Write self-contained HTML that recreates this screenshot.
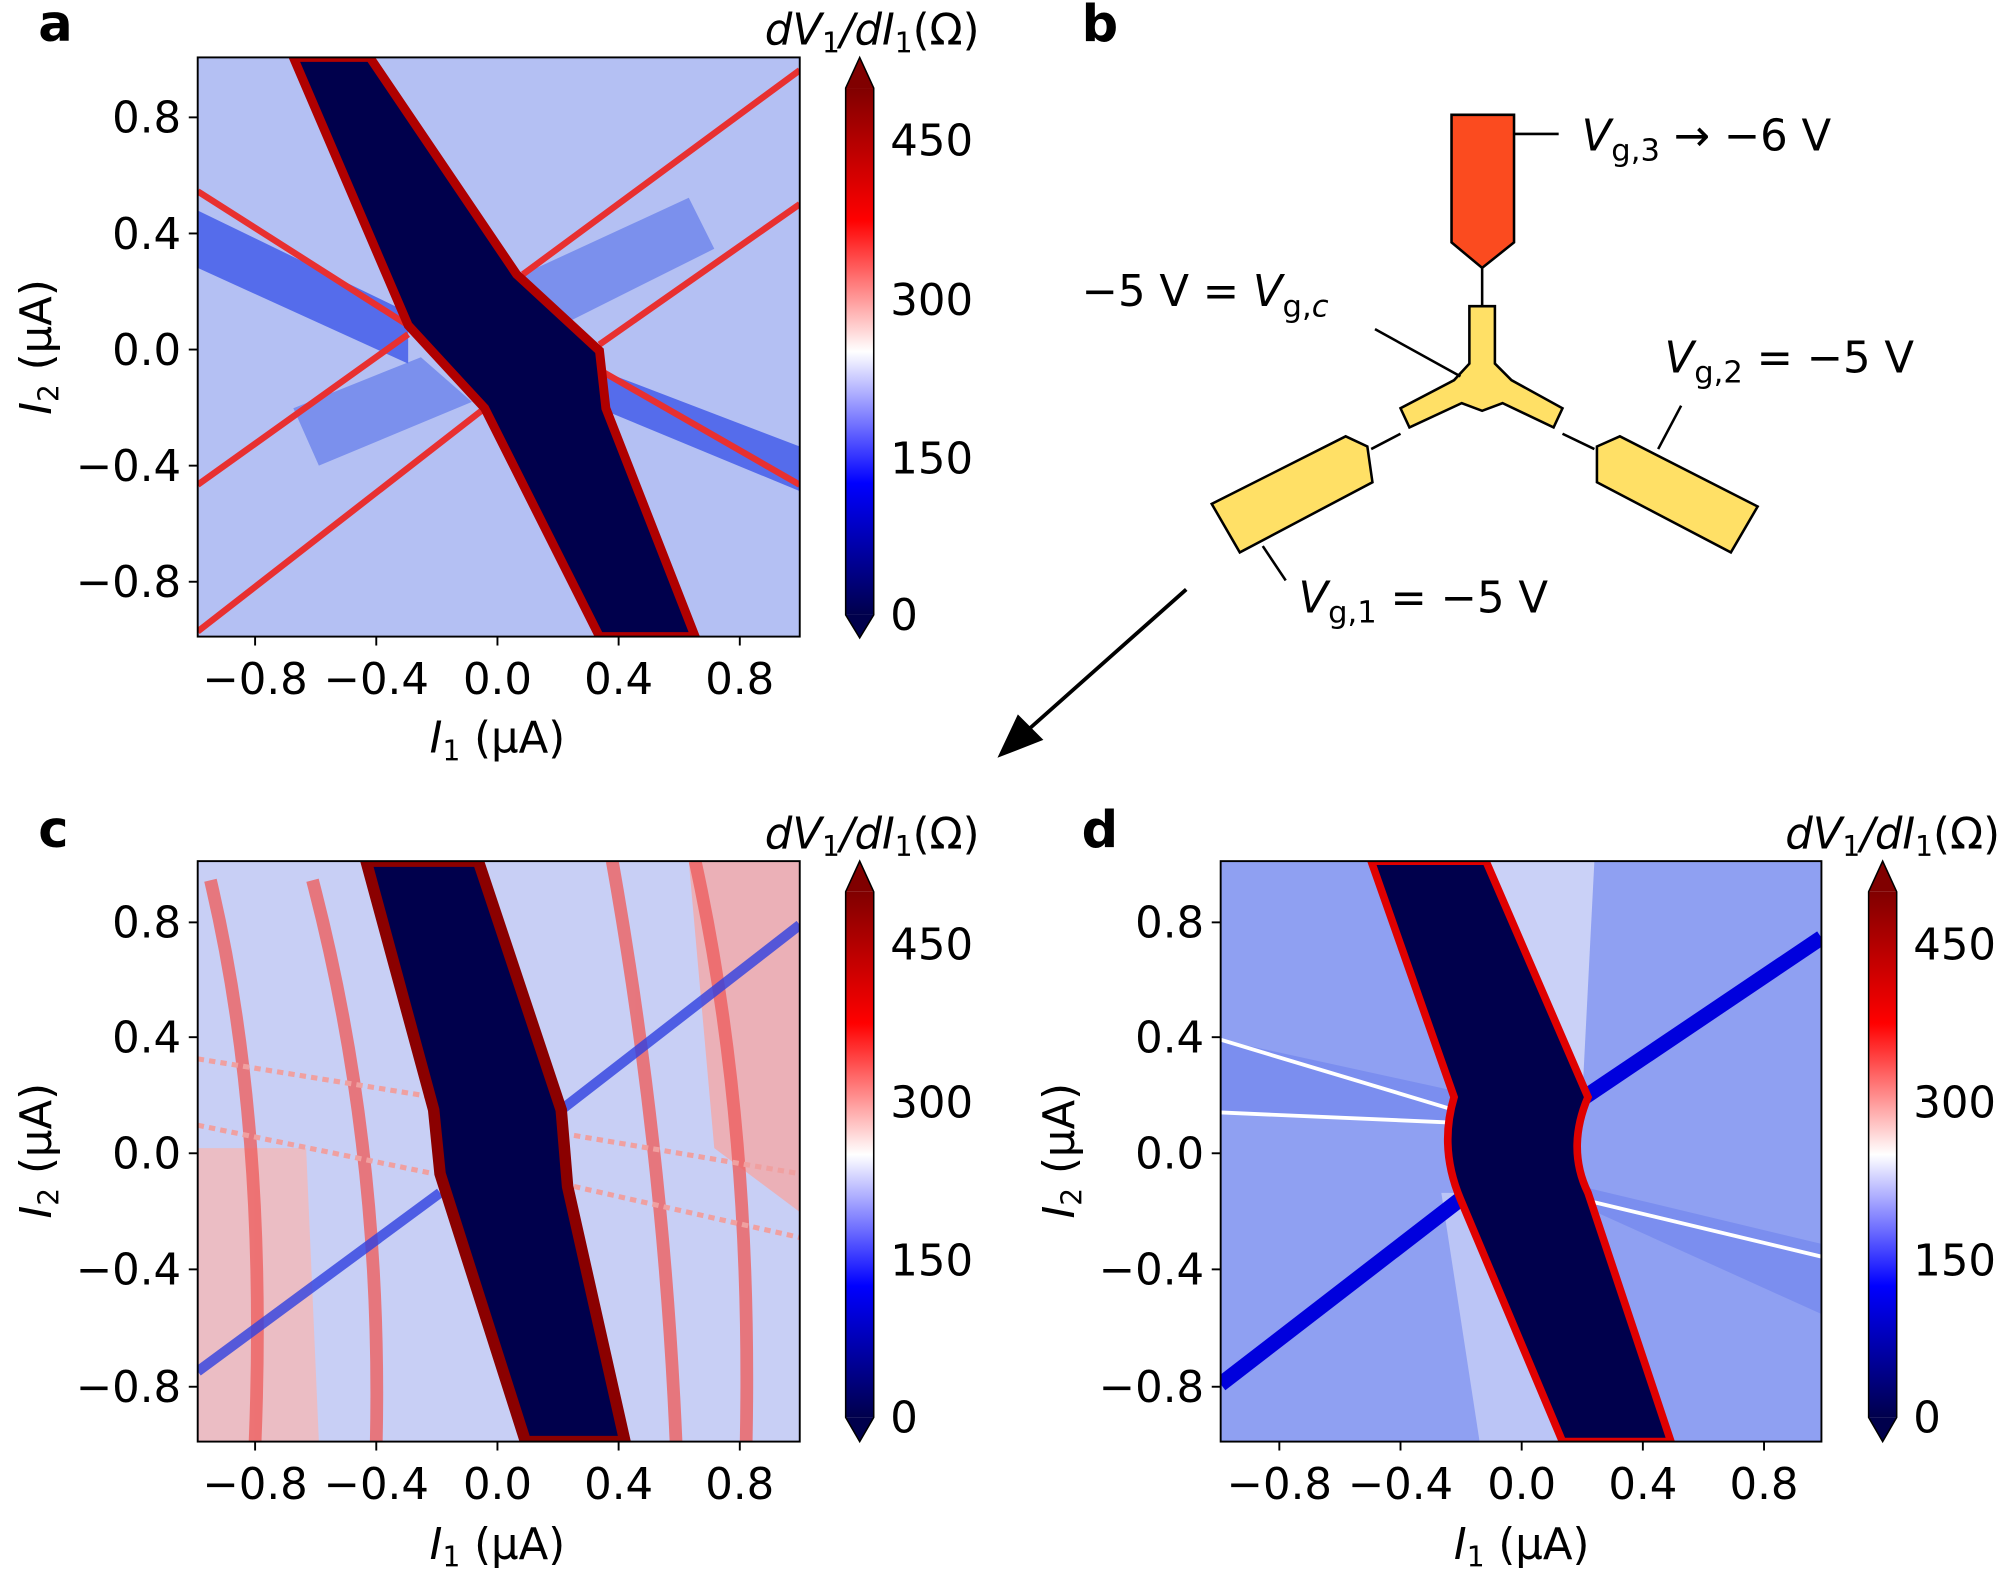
<!DOCTYPE html>
<html><head><meta charset="utf-8"><style>
html,body{margin:0;padding:0;background:#fff}
svg{display:block}
text{font-family:"DejaVu Sans","Liberation Sans",sans-serif;fill:#000}
.t{font-size:34px}
.b{font-size:40px;font-weight:bold}
</style></head><body>
<svg width="2000" height="1573" viewBox="0 0 1568 1233" preserveAspectRatio="none" xmlns="http://www.w3.org/2000/svg">
<defs>
<linearGradient id="cm" x1="0" y1="1" x2="0" y2="0">
<stop offset="0" stop-color="#00004c"/><stop offset="0.25" stop-color="#0000ff"/>
<stop offset="0.5" stop-color="#ffffff"/><stop offset="0.75" stop-color="#ff0000"/>
<stop offset="1" stop-color="#800000"/></linearGradient>
<clipPath id="ca"><rect x="155" y="45" width="472" height="454"/></clipPath>
<clipPath id="cc"><rect x="155" y="675" width="472" height="455"/></clipPath>
<clipPath id="cd"><rect x="957" y="675" width="471" height="455"/></clipPath>
</defs>

<!-- Panel a -->
<text class="b" x="30" y="32">a</text>
<g clip-path="url(#ca)">
<rect x="155" y="45" width="472" height="454" fill="#b4c0f3"/>
<polygon points="155,165 320,245 320,285 155,210" fill="#3550e8" opacity="0.75"/>
<polygon points="470,290 627,350 627,385 470,320" fill="#3550e8" opacity="0.75"/>
<polygon points="410,215 540,155 560,195 430,260" fill="#5570ea" opacity="0.6"/>
<polygon points="230,320 330,280 370,315 250,365" fill="#5570ea" opacity="0.6"/>
<g stroke="#e83030" stroke-width="5" fill="none">
<line x1="155" y1="380" x2="320" y2="262"/>
<line x1="155" y1="495" x2="380" y2="320"/>
<line x1="410" y1="215" x2="627" y2="55"/>
<line x1="470" y1="270" x2="627" y2="160"/>
<line x1="155" y1="150" x2="320" y2="255"/>
<line x1="470" y1="290" x2="627" y2="380"/>
</g>
<polygon points="230,45 290,45 405,215 470,275 475,320 545,499 470,499 380,320 320,255" fill="#00004c" stroke="#b00000" stroke-width="7"/>
</g>
<rect x="155" y="45" width="472" height="454" fill="none" stroke="#000" stroke-width="1.5"/>
<g class="t" text-anchor="end">
<text x="142" y="104">0.8</text><text x="142" y="195">0.4</text><text x="142" y="286">0.0</text>
<text x="142" y="377">−0.4</text><text x="142" y="468">−0.8</text></g>
<g class="t" text-anchor="middle">
<text x="200" y="544">−0.8</text><text x="295" y="544">−0.4</text><text x="390" y="544">0.0</text>
<text x="485" y="544">0.4</text><text x="580" y="544">0.8</text>
<text x="390" y="590"><tspan font-style="italic">I</tspan><tspan font-size="22" dy="6">1</tspan><tspan dy="-6"> (μA)</tspan></text></g>
<text class="t" transform="translate(40,272) rotate(-90)" text-anchor="middle"><tspan font-style="italic">I</tspan><tspan font-size="22" dy="6">2</tspan><tspan dy="-6"> (μA)</tspan></text>
<g stroke="#000" stroke-width="1.5">
<line x1="155" y1="92" x2="148" y2="92"/><line x1="155" y1="183" x2="148" y2="183"/><line x1="155" y1="274" x2="148" y2="274"/><line x1="155" y1="365" x2="148" y2="365"/><line x1="155" y1="456" x2="148" y2="456"/>
<line x1="200" y1="499" x2="200" y2="506"/><line x1="295" y1="499" x2="295" y2="506"/><line x1="390" y1="499" x2="390" y2="506"/><line x1="485" y1="499" x2="485" y2="506"/><line x1="580" y1="499" x2="580" y2="506"/></g>
<g>
<rect x="663" y="69" width="22" height="413" fill="url(#cm)"/>
<polygon points="663,69 674,45 685,69" fill="#800000"/><polygon points="663,482 674,500 685,482" fill="#00004c"/>
<polygon points="663,69 674,45 685,69 685,482 674,500 663,482" fill="none" stroke="#000" stroke-width="1.2"/>
<g class="t"><text x="698" y="122">450</text><text x="698" y="247">300</text><text x="698" y="371">150</text><text x="698" y="494">0</text></g>
<text class="t" x="768" y="35" text-anchor="end" font-style="italic">dV<tspan font-size="22" dy="6" font-style="normal">1</tspan><tspan dy="-6">/dI</tspan><tspan font-size="22" dy="6" font-style="normal">1</tspan><tspan dy="-6" font-style="normal">(Ω)</tspan></text>
</g>

<!-- Panel b -->
<text class="b" x="848" y="32">b</text>
<polygon points="1138,90 1187,90 1187,190 1162,210 1138,190" fill="#fb4b1f" stroke="#000" stroke-width="2"/>
<line x1="1187" y1="105" x2="1222" y2="105" stroke="#000" stroke-width="2"/>
<line x1="1162" y1="210" x2="1162" y2="240" stroke="#000" stroke-width="2"/>
<text class="t" x="1240" y="118" font-size="38"><tspan font-style="italic">V</tspan><tspan font-size="24" dy="8">g,3</tspan><tspan dy="-8"> → −6 V</tspan></text>
<polygon points="1152,240 1172,240 1172,285 1185,298 1225,320 1218,335 1178,316 1162,322 1146,316 1105,335 1098,320 1140,298 1152,285" fill="#ffe066" stroke="#000" stroke-width="2"/>
<line x1="1098" y1="340" x2="1075" y2="352" stroke="#000" stroke-width="2"/>
<line x1="1225" y1="340" x2="1250" y2="352" stroke="#000" stroke-width="2"/>
<polygon points="950,395 1055,342 1072,350 1076,378 972,433" fill="#ffe066" stroke="#000" stroke-width="2"/>
<polygon points="1252,350 1270,342 1378,397 1357,433 1252,378" fill="#ffe066" stroke="#000" stroke-width="2"/>
<line x1="1145" y1="295" x2="1078" y2="258" stroke="#000" stroke-width="2"/>
<line x1="1300" y1="352" x2="1318" y2="318" stroke="#000" stroke-width="2"/>
<line x1="990" y1="428" x2="1008" y2="455" stroke="#000" stroke-width="2"/>
<text class="t" x="848" y="240" font-size="38">−5 V = <tspan font-style="italic">V</tspan><tspan font-size="24" dy="8">g,<tspan font-style="italic">c</tspan></tspan></text>
<text class="t" x="1305" y="292" font-size="38"><tspan font-style="italic">V</tspan><tspan font-size="24" dy="8">g,2</tspan><tspan dy="-8"> = −5 V</tspan></text>
<text class="t" x="1018" y="480" font-size="38"><tspan font-style="italic">V</tspan><tspan font-size="24" dy="8">g,1</tspan><tspan dy="-8"> = −5 V</tspan></text>
<line x1="930" y1="462" x2="805" y2="573" stroke="#000" stroke-width="3"/>
<polygon points="782,594 798,560 818,580" fill="#000"/>

<!-- Panel c -->
<text class="b" x="30" y="664">c</text>
<g clip-path="url(#cc)">
<rect x="155" y="675" width="472" height="455" fill="#c8cff5"/>
<polygon points="155,900 240,900 250,1130 155,1130" fill="#f4b8b8" opacity="0.8"/>
<polygon points="540,675 627,675 627,950 560,900" fill="#f4a8a8" opacity="0.8"/>
<g stroke="#ee6060" stroke-width="10" fill="none" opacity="0.8">
<path d="M165,690 Q210,880 200,1130"/><path d="M245,690 Q300,900 295,1130"/>
<path d="M480,675 Q520,900 530,1130"/><path d="M545,675 Q590,880 585,1130"/></g>
<g stroke="#3040e0" stroke-width="8" fill="none" opacity="0.8">
<line x1="155" y1="1075" x2="345" y2="935"/><line x1="440" y1="870" x2="627" y2="725"/></g>
<g stroke="#f0a0a0" stroke-width="4" fill="none" stroke-dasharray="5,4">
<line x1="155" y1="830" x2="340" y2="860"/><line x1="155" y1="882" x2="340" y2="920"/>
<line x1="450" y1="890" x2="627" y2="920"/><line x1="450" y1="930" x2="627" y2="970"/></g>
<polygon points="287,675 375,675 440,870 445,930 490,1130 412,1130 345,920 340,870" fill="#00004c" stroke="#8b0000" stroke-width="9"/>
</g>
<rect x="155" y="675" width="472" height="455" fill="none" stroke="#000" stroke-width="1.5"/>
<g class="t" text-anchor="end">
<text x="142" y="735">0.8</text><text x="142" y="825">0.4</text><text x="142" y="916">0.0</text>
<text x="142" y="1007">−0.4</text><text x="142" y="1099">−0.8</text></g>
<g class="t" text-anchor="middle">
<text x="200" y="1175">−0.8</text><text x="295" y="1175">−0.4</text><text x="390" y="1175">0.0</text>
<text x="485" y="1175">0.4</text><text x="580" y="1175">0.8</text>
<text x="390" y="1222"><tspan font-style="italic">I</tspan><tspan font-size="22" dy="6">1</tspan><tspan dy="-6"> (μA)</tspan></text></g>
<text class="t" transform="translate(40,902) rotate(-90)" text-anchor="middle"><tspan font-style="italic">I</tspan><tspan font-size="22" dy="6">2</tspan><tspan dy="-6"> (μA)</tspan></text>
<g stroke="#000" stroke-width="1.5">
<line x1="155" y1="723" x2="148" y2="723"/><line x1="155" y1="813" x2="148" y2="813"/><line x1="155" y1="904" x2="148" y2="904"/><line x1="155" y1="995" x2="148" y2="995"/><line x1="155" y1="1087" x2="148" y2="1087"/>
<line x1="200" y1="1130" x2="200" y2="1137"/><line x1="295" y1="1130" x2="295" y2="1137"/><line x1="390" y1="1130" x2="390" y2="1137"/><line x1="485" y1="1130" x2="485" y2="1137"/><line x1="580" y1="1130" x2="580" y2="1137"/></g>
<g>
<rect x="663" y="699" width="22" height="412" fill="url(#cm)"/>
<polygon points="663,699 674,675 685,699" fill="#800000"/><polygon points="663,1111 674,1130 685,1111" fill="#00004c"/>
<polygon points="663,699 674,675 685,699 685,1111 674,1130 663,1111" fill="none" stroke="#000" stroke-width="1.2"/>
<g class="t"><text x="698" y="752">450</text><text x="698" y="876">300</text><text x="698" y="1000">150</text><text x="698" y="1123">0</text></g>
<text class="t" x="768" y="665" text-anchor="end" font-style="italic">dV<tspan font-size="22" dy="6" font-style="normal">1</tspan><tspan dy="-6">/dI</tspan><tspan font-size="22" dy="6" font-style="normal">1</tspan><tspan dy="-6" font-style="normal">(Ω)</tspan></text>
</g>

<!-- Panel d -->
<text class="b" x="848" y="664">d</text>
<g clip-path="url(#cd)">
<rect x="957" y="675" width="471" height="455" fill="#8fa0f2"/>
<polygon points="957,815 1140,855 1140,880 957,872" fill="#7b8eef"/>
<polygon points="1240,930 1428,975 1428,1030 1240,945" fill="#7b8eef"/>
<polygon points="1160,675 1250,675 1240,870 1200,880" fill="#d8ddf8" opacity="0.8"/>
<polygon points="1130,935 1160,935 1230,1130 1160,1130" fill="#d8ddf8" opacity="0.6"/>
<g stroke="#0000dd" stroke-width="12" fill="none">
<line x1="957" y1="1085" x2="1145" y2="940"/><line x1="1235" y1="865" x2="1428" y2="735"/></g>
<g stroke="#ffffff" stroke-width="3" fill="none">
<line x1="957" y1="815" x2="1140" y2="870"/><line x1="1240" y1="940" x2="1428" y2="985"/>
<line x1="957" y1="872" x2="1140" y2="880"/></g>
<path d="M1075,675 L1165,675 L1245,860 Q1228,900 1245,935 L1310,1130 L1225,1130 L1145,940 Q1128,900 1140,860 Z" fill="#00004c" stroke="#e00000" stroke-width="6"/>
</g>
<rect x="957" y="675" width="471" height="455" fill="none" stroke="#000" stroke-width="1.5"/>
<g class="t" text-anchor="end">
<text x="944" y="735">0.8</text><text x="944" y="825">0.4</text><text x="944" y="916">0.0</text>
<text x="944" y="1007">−0.4</text><text x="944" y="1099">−0.8</text></g>
<g class="t" text-anchor="middle">
<text x="1003" y="1175">−0.8</text><text x="1098" y="1175">−0.4</text><text x="1193" y="1175">0.0</text>
<text x="1288" y="1175">0.4</text><text x="1383" y="1175">0.8</text>
<text x="1193" y="1222"><tspan font-style="italic">I</tspan><tspan font-size="22" dy="6">1</tspan><tspan dy="-6"> (μA)</tspan></text></g>
<text class="t" transform="translate(842,902) rotate(-90)" text-anchor="middle"><tspan font-style="italic">I</tspan><tspan font-size="22" dy="6">2</tspan><tspan dy="-6"> (μA)</tspan></text>
<g stroke="#000" stroke-width="1.5">
<line x1="957" y1="723" x2="950" y2="723"/><line x1="957" y1="813" x2="950" y2="813"/><line x1="957" y1="904" x2="950" y2="904"/><line x1="957" y1="995" x2="950" y2="995"/><line x1="957" y1="1087" x2="950" y2="1087"/>
<line x1="1003" y1="1130" x2="1003" y2="1137"/><line x1="1098" y1="1130" x2="1098" y2="1137"/><line x1="1193" y1="1130" x2="1193" y2="1137"/><line x1="1288" y1="1130" x2="1288" y2="1137"/><line x1="1383" y1="1130" x2="1383" y2="1137"/></g>
<g>
<rect x="1465" y="699" width="22" height="412" fill="url(#cm)"/>
<polygon points="1465,699 1476,675 1487,699" fill="#800000"/><polygon points="1465,1111 1476,1130 1487,1111" fill="#00004c"/>
<polygon points="1465,699 1476,675 1487,699 1487,1111 1476,1130 1465,1111" fill="none" stroke="#000" stroke-width="1.2"/>
<g class="t"><text x="1500" y="752">450</text><text x="1500" y="876">300</text><text x="1500" y="1000">150</text><text x="1500" y="1123">0</text></g>
<text class="t" x="1568" y="665" text-anchor="end" font-style="italic">dV<tspan font-size="22" dy="6" font-style="normal">1</tspan><tspan dy="-6">/dI</tspan><tspan font-size="22" dy="6" font-style="normal">1</tspan><tspan dy="-6" font-style="normal">(Ω)</tspan></text>
</g>
</svg>
</body></html>
